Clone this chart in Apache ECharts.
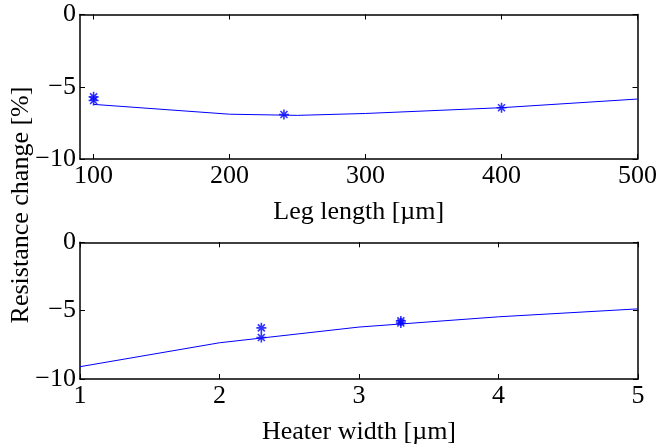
<!DOCTYPE html>
<html><head><meta charset="utf-8">
<script src="https://cdn.jsdelivr.net/npm/echarts@6/dist/echarts.min.js"></script>
<style>html,body{margin:0;padding:0;background:#fff}#c{width:660px;height:446px}</style>
</head><body><div id="c"></div>
<script>
// Top panel: leg length
const legLineX = [100, 200, 250, 300, 400, 500];
const legLineY = [-6.22, -6.9, -6.98, -6.85, -6.45, -5.85];
const legPtsX = [100, 100, 240, 400];
const legPtsY = [-5.7, -5.95, -6.92, -6.45];
const legTicks = [100, 200, 300, 400, 500];
// Bottom panel: heater width
const heatLineX = [1, 2, 3, 4, 5];
const heatLineY = [-9.1, -7.35, -6.2, -5.45, -4.87];
const heatPtsX = [2.3, 2.3, 3.3, 3.3];
const heatPtsY = [-6.26, -6.96, -5.75, -5.9];
const heatTicks = [1, 2, 3, 4, 5];
const yTicks = [-10, -5, 0];

const FONT = 'Liberation Serif';
const FS = 26;
const fmt = v => String(v).replace('-', '\u2212');
const star = 'path://M0,-5L0,5M-5,0L5,0M-3.5,-3.5L3.5,3.5M-3.5,3.5L3.5,-3.5';
const lineStyle = {color: '#000', width: 1.5};

function xAxes(gi, min, max, ticks, name, gap) {
  return [{
    type: 'value', gridIndex: gi, min: min, max: max, position: 'bottom',
    axisLine: {show: true, onZero: false, lineStyle},
    axisTick: {show: true, inside: true, length: 5, customValues: ticks, lineStyle: {color: '#000'}},
    axisLabel: {customValues: ticks, formatter: fmt, color: '#000', fontFamily: FONT, fontSize: FS, margin: 4},
    splitLine: {show: false},
    name: name, nameLocation: 'middle', nameGap: gap,
    nameTextStyle: {color: '#000', fontFamily: FONT, fontSize: FS}
  }, {
    type: 'value', gridIndex: gi, min: min, max: max, position: 'top',
    axisLine: {show: true, onZero: false, lineStyle},
    axisTick: {show: true, inside: true, length: 5, customValues: ticks, lineStyle: {color: '#000'}},
    axisLabel: {show: false}, splitLine: {show: false}
  }];
}
function yAxes(gi) {
  return [{
    type: 'value', gridIndex: gi, min: -10, max: 0, position: 'left',
    axisLine: {show: true, onZero: false, lineStyle},
    axisTick: {show: true, inside: true, length: 5, customValues: yTicks, lineStyle: {color: '#000'}},
    axisLabel: {customValues: yTicks, formatter: fmt, color: '#000', fontFamily: FONT, fontSize: FS, margin: 4},
    splitLine: {show: false}
  }, {
    type: 'value', gridIndex: gi, min: -10, max: 0, position: 'right',
    axisLine: {show: true, onZero: false, lineStyle},
    axisTick: {show: true, inside: true, length: 5, customValues: yTicks, lineStyle: {color: '#000'}},
    axisLabel: {show: false}, splitLine: {show: false}
  }];
}
const zip = (a, b) => a.map((v, i) => [v, b[i]]);

const chart = echarts.init(document.getElementById('c'), null, {renderer: 'canvas'});
chart.setOption({
  animation: false,
  backgroundColor: '#fff',
  grid: [
    {left: 80, top: 14.5, width: 558, height: 144.5},
    {left: 80, top: 242.3, width: 558, height: 143.7}
  ],
  xAxis: [...xAxes(0, 90, 500, legTicks, 'Leg length [\u00b5m]', 40), ...xAxes(1, 1, 5, heatTicks, 'Heater width [\u00b5m]', 40)],
  yAxis: [...yAxes(0), ...yAxes(1)],
  graphic: [{
    type: 'text', x: 8, y: 205, rotation: Math.PI / 2,
    style: {text: 'Resistance change [%]', fill: '#000', font: FS + 'px "Liberation Serif"', align: 'center', verticalAlign: 'top'}
  }],
  series: [
    {type: 'line', xAxisIndex: 0, yAxisIndex: 0, data: zip(legLineX, legLineY), symbol: 'none',
     lineStyle: {color: '#0000ff', width: 1}},
    {type: 'scatter', xAxisIndex: 0, yAxisIndex: 0, data: zip(legPtsX, legPtsY), symbol: star, symbolSize: 10,
     itemStyle: {color: 'none', borderColor: '#0000ff', borderWidth: 1.6}},
    {type: 'line', xAxisIndex: 2, yAxisIndex: 2, data: zip(heatLineX, heatLineY), symbol: 'none',
     lineStyle: {color: '#0000ff', width: 1}},
    {type: 'scatter', xAxisIndex: 2, yAxisIndex: 2, data: zip(heatPtsX, heatPtsY), symbol: star, symbolSize: 10,
     itemStyle: {color: 'none', borderColor: '#0000ff', borderWidth: 1.6}}
  ]
});
</script></body></html>
